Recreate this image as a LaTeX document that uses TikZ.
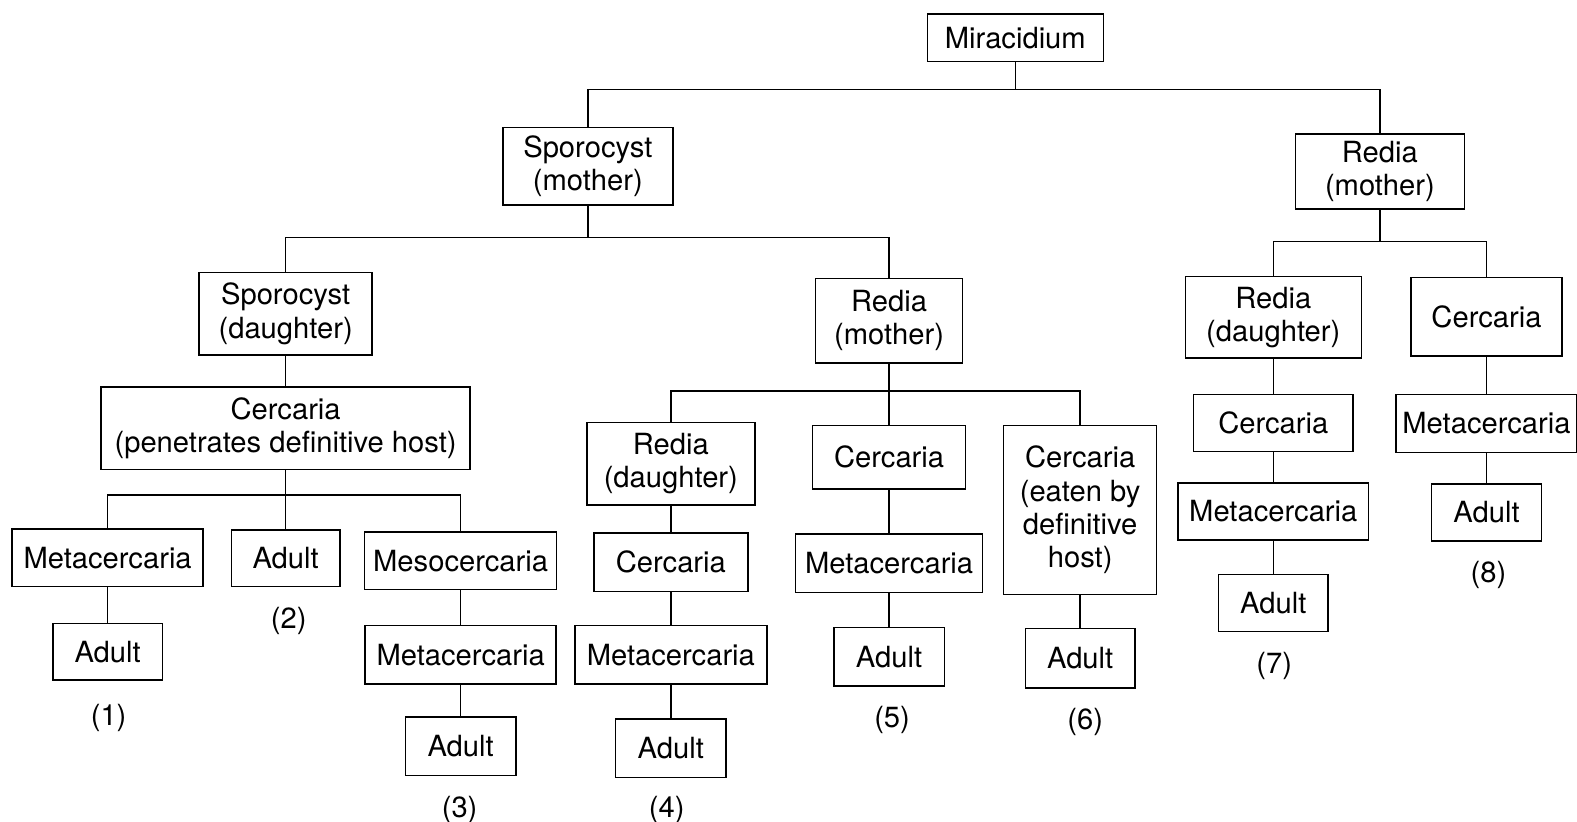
\documentclass[tikz,border=0pt]{standalone}
\usepackage{fontspec}
\setmainfont{TeX Gyre Heros}
\newcommand{\stagefont}{\fontsize{29}{33}\selectfont}

\begin{document}
\begin{tikzpicture}[x=1pt,y=-1pt,
  stage/.style={draw, line width=1.5pt, align=center, inner sep=0pt, font=\stagefont},
  casenum/.style={inner sep=0pt, font=\stagefont},
  link/.style={line width=1.5pt}]
\useasboundingbox (0,0) rectangle (1568,817);
\node[stage, minimum width=175, minimum height=47] (mir) at (1009.5,37.5) {Miracidium};
\node[stage, minimum width=169, minimum height=77] (spm) at (584.5,165.5) {Sporocyst\\(mother)};
\node[stage, minimum width=168, minimum height=75] (rdr) at (1372,170.5) {Redia\\(mother)};
\node[stage, minimum width=172, minimum height=82] (sps) at (284,312) {Sporocyst\\(daughter)};
\node[stage, minimum width=146, minimum height=84] (rdm) at (884,319) {Redia\\(mother)};
\node[stage, minimum width=175, minimum height=81] (rdd) at (1266,315.5) {Redia\\(daughter)};
\node[stage, minimum width=150, minimum height=78] (cer8) at (1478,315) {Cercaria};
\node[stage, minimum width=367, minimum height=82] (cpen) at (284,426) {Cercaria\\(penetrates definitive host)};
\node[stage, minimum width=190, minimum height=57] (met1) at (107,554.5) {Metacercaria};
\node[stage, minimum width=108, minimum height=56] (ad2) at (284,555) {Adult};
\node[stage, minimum width=191, minimum height=57] (meso) at (458,557.5) {Mesocercaria};
\node[stage, minimum width=109, minimum height=56] (ad1) at (107,648) {Adult};
\node[stage, minimum width=190, minimum height=58] (met3) at (458,651) {Metacercaria};
\node[stage, minimum width=110, minimum height=58] (ad3) at (458,742) {Adult};
\node[stage, minimum width=167, minimum height=82] (rdd4) at (667,461) {Redia\\(daughter)};
\node[stage, minimum width=153, minimum height=58] (cer4) at (667,559) {Cercaria};
\node[stage, minimum width=191, minimum height=58] (met4) at (667,651) {Metacercaria};
\node[stage, minimum width=110, minimum height=58] (ad4) at (667,744) {Adult};
\node[stage, minimum width=152, minimum height=63] (cer5) at (884,454.5) {Cercaria};
\node[stage, minimum width=186, minimum height=58] (met5) at (884,560) {Metacercaria};
\node[stage, minimum width=110, minimum height=58] (ad5) at (884,653) {Adult};
\node[stage, minimum width=152, minimum height=168] (cere) at (1074,507) {Cercaria\\(eaten by\\definitive\\host)};
\node[stage, minimum width=109, minimum height=59] (ad6) at (1074,654.5) {Adult};
\node[stage, minimum width=159, minimum height=57] (cer7) at (1266,420.5) {Cercaria};
\node[stage, minimum width=189, minimum height=57] (met7) at (1266,508.5) {Metacercaria};
\node[stage, minimum width=109, minimum height=57] (ad7) at (1266,599.5) {Adult};
\node[stage, minimum width=180, minimum height=58] (met8) at (1478,421) {Metacercaria};
\node[stage, minimum width=109, minimum height=57] (ad8) at (1478,509.5) {Adult};
\node[casenum] (n1) at (108,714) {(1)};
\node[casenum] (n2) at (287,617) {(2)};
\node[casenum] (n3) at (457,805) {(3)};
\node[casenum] (n4) at (663,805) {(4)};
\node[casenum] (n5) at (887,716) {(5)};
\node[casenum] (n6) at (1079,718) {(6)};
\node[casenum] (n7) at (1267,662) {(7)};
\node[casenum] (n8) at (1480,572) {(8)};
\coordinate (j0) at (1009.5,89);
\coordinate (j1) at (584.5,236);
\coordinate (j2) at (1372,240);
\coordinate (j3) at (284,492);
\coordinate (j4) at (884,389);
\draw[link] (mir) -- (j0);
\draw[link] (spm) |- (j0) -| (rdr);
\draw[link] (spm) -- (j1);
\draw[link] (sps) |- (j1) -| (rdm);
\draw[link] (rdr) -- (j2);
\draw[link] (rdd) |- (j2) -| (cer8);
\draw[link] (sps) -- (cpen);
\draw[link] (cpen) -- (ad2);
\draw[link] (met1) |- (j3) -| (meso);
\draw[link] (met1) -- (ad1);
\draw[link] (meso) -- (met3);
\draw[link] (met3) -- (ad3);
\draw[link] (rdm) -- (cer5);
\draw[link] (rdd4) |- (j4) -| (cere);
\draw[link] (rdd4) -- (cer4);
\draw[link] (cer4) -- (met4);
\draw[link] (met4) -- (ad4);
\draw[link] (cer5) -- (met5);
\draw[link] (met5) -- (ad5);
\draw[link] (cere) -- (ad6);
\draw[link] (rdd) -- (cer7);
\draw[link] (cer7) -- (met7);
\draw[link] (met7) -- (ad7);
\draw[link] (cer8) -- (met8);
\draw[link] (met8) -- (ad8);
\end{tikzpicture}
\end{document}
